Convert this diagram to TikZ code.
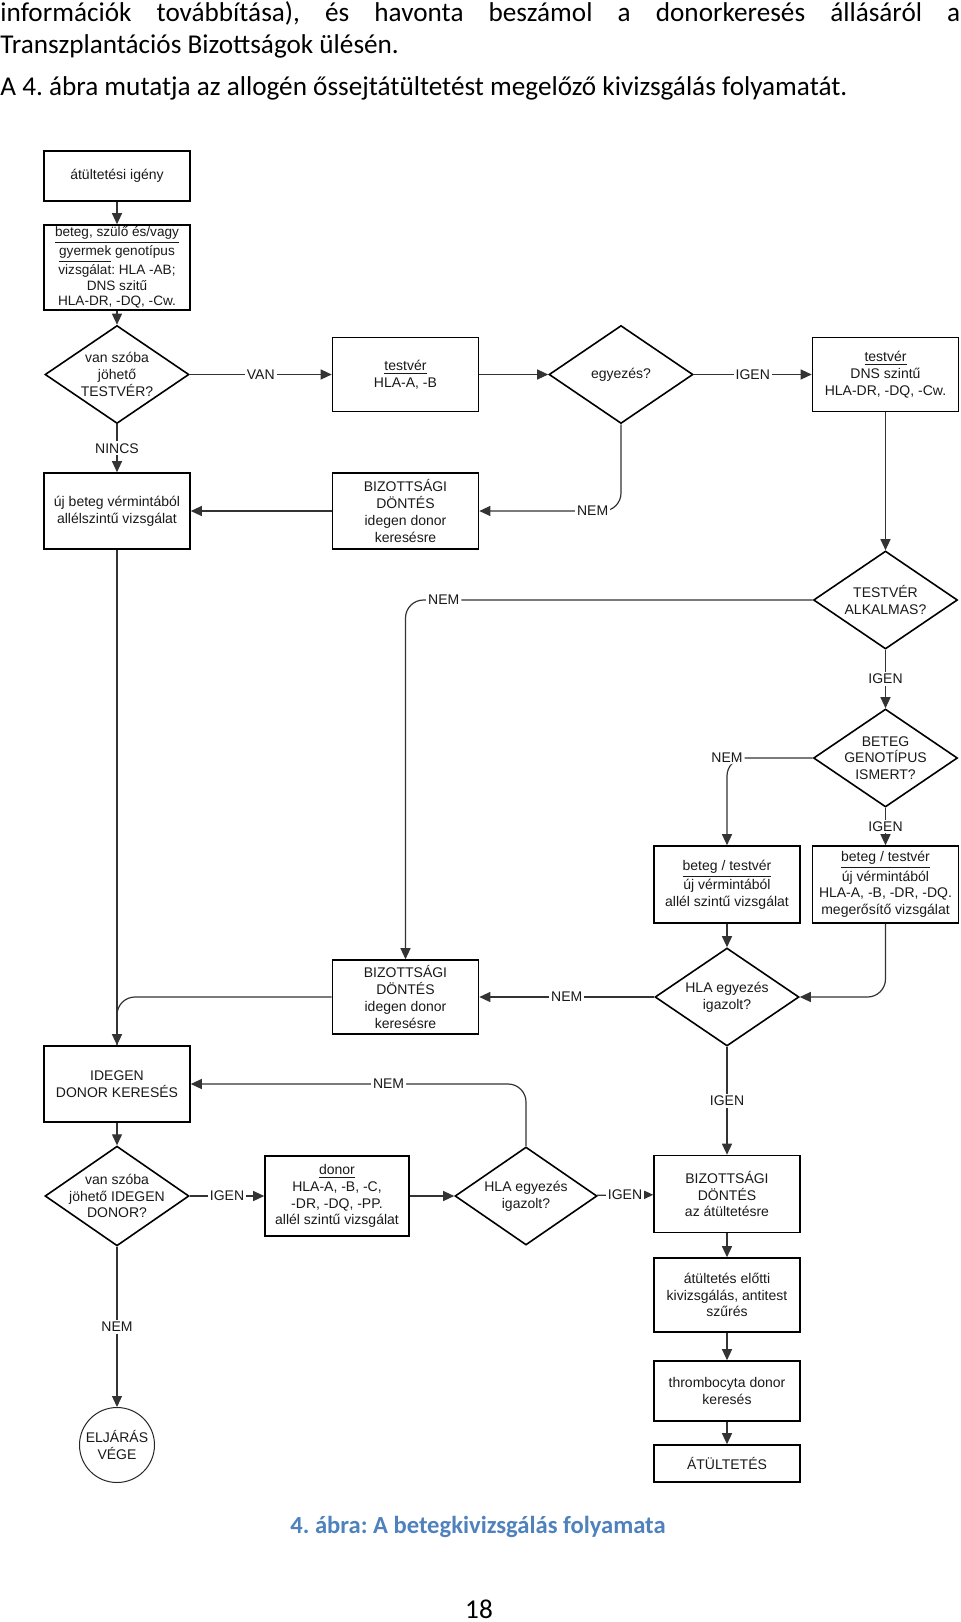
\documentclass[tikz,border=0pt]{standalone}
\usepackage{fontspec}
\setmainfont{Carlito}
\newfontfamily\arialfont{Liberation Sans}
\usepackage{xcolor}
\usetikzlibrary{shapes.geometric,arrows.meta}
\definecolor{capblue}{RGB}{79,129,189}
\definecolor{ink}{RGB}{25,25,25}
\frenchspacing

\begin{document}
\begin{tikzpicture}[x=0.5pt, y=-0.5pt,
	chart/.style={font=\arialfont\fontsize{7}{8.4}\selectfont, text=ink},
	box/.style={chart, draw=black, line width=0.8pt, minimum width=73pt, align=center, inner sep=0.5pt},
	dia/.style={chart, diamond, draw=black, line width=0.8pt, minimum width=72pt, minimum height=49pt, inner sep=-5pt, align=center},
	lab/.style={chart, fill=white, inner sep=1pt},
	line/.style={draw=black!80, line width=0.6pt},
	conn/.style={line, -{Triangle[length=5.5pt,width=5pt]}},
	body/.style={font=\fontsize{13.6}{16.5}\selectfont, inner sep=0pt, anchor=base west}]
	\useasboundingbox (0,0) rectangle (960,1622);

	\node[body] (intro1) at (0,21) {\makebox[480pt][s]{információk továbbítása), és havonta beszámol a donorkeresés állásáról a}};
	\node[body] (intro2) at (0,54) {Transzplantációs Bizottságok ülésén.};
	\node[body] (intro3) at (0,95) {A 4. ábra mutatja az allogén őssejtátültetést megelőző kivizsgálás folyamatát.};

	% testvér ág
	\node[box, minimum height=25pt] (igeny) at (117,176) {átültetési igény};
	\node[box, minimum height=42.5pt, font=\arialfont\fontsize{6.8}{7.9}\selectfont] (genotip) at (117,267.5) {\underline{beteg, szülő és/vagy}\\\underline{gyermek} genotípus\\vizsgálat: HLA -AB;\\DNS szitű\\HLA-DR, -DQ, -Cw.};
	\node[dia] (vanteszt) at (117,374.5) {van szóba\\jöhető\\TESTVÉR?};
	\node[box, minimum height=37pt] (testhla) at (405.5,374.5) {\underline{testvér}\\HLA-A, -B};
	\node[dia] (egyezes) at (621,374.5) {egyezés?};
	\node[box, minimum height=37pt] (testdns) at (885.5,374.5) {\underline{testvér}\\DNS szintű\\HLA-DR, -DQ, -Cw.};
	\node[box, minimum height=38pt] (ujbeteg) at (117,511) {új beteg vérmintából\\allélszintű vizsgálat};
	\node[box, minimum height=38pt] (bizd1) at (405.5,511) {BIZOTTSÁGI\\DÖNTÉS\\idegen donor\\keresésre};
	\node[dia] (alkalmas) at (885.5,600) {TESTVÉR\\ALKALMAS?};
	\node[dia] (genism) at (885.5,758) {BETEG\\GENOTÍPUS\\ISMERT?};
	\node[box, minimum height=38.5pt] (allel) at (727,884.5) {\underline{beteg / testvér}\\új vérmintából\\allél szintű vizsgálat};
	\node[box, minimum height=38.5pt] (megerosito) at (885.5,884.5) {\underline{beteg / testvér}\\új vérmintából\\HLA-A, -B, -DR, -DQ.\\megerősítő vizsgálat};
	\node[dia] (hlaig1) at (727,997) {HLA egyezés\\igazolt?};
	\node[box, minimum height=37pt] (bizd2) at (405.5,997) {BIZOTTSÁGI\\DÖNTÉS\\idegen donor\\keresésre};

	% idegen donor ág
	\node[box, minimum height=38pt] (idegen) at (117,1084) {IDEGEN\\DONOR KERESÉS};
	\node[dia] (vanidegen) at (117,1196) {van szóba\\jöhető IDEGEN\\DONOR?};
	\node[box, minimum width=72pt, minimum height=40pt] (donor) at (337,1196) {\underline{donor}\\HLA-A, -B, -C,\\-DR, -DQ, -PP.\\allél szintű vizsgálat};
	\node[dia, minimum width=71pt] (hlaig2) at (526,1196) {HLA egyezés\\igazolt?};
	\node[box, minimum height=38.5pt] (bizd3) at (727,1194) {BIZOTTSÁGI\\DÖNTÉS\\az átültetésre};
	\node[box, minimum height=37pt] (elotti) at (727,1295) {átültetés előtti\\kivizsgálás, antitest\\szűrés};
	\node[box, minimum height=30pt] (thromb) at (727,1391) {thrombocyta donor\\keresés};
	\node[box, minimum height=18.5pt] (atultetes) at (727,1463.5) {ÁTÜLTETÉS};
	\node[chart, circle, draw=black!85, line width=0.5pt, minimum size=37.5pt, inner sep=0pt, align=center] (vege) at (117,1445) {ELJÁRÁS\\VÉGE};

	\draw[conn] (igeny) -- (genotip);
	\draw[conn] (genotip) -- (vanteszt);
	\draw[conn] (vanteszt) -- node[lab] {VAN} (testhla);
	\draw[conn] (testhla) -- (egyezes);
	\draw[conn] (egyezes) -- node[lab] {IGEN} (testdns);
	\draw[conn, rounded corners=9pt] (egyezes.south) |- node[lab, pos=0.6] {NEM} (bizd1.east);
	\draw[conn] (vanteszt) -- node[lab] {NINCS} (ujbeteg);
	\draw[conn] (bizd1) -- (ujbeteg);
	\draw[conn] (testdns) -- (alkalmas);
	\draw[conn, rounded corners=9pt] (alkalmas.west) -| node[lab, pos=0.453] {NEM} (bizd2.north);
	\draw[conn] (alkalmas) -- node[lab] {IGEN} (genism);
	\draw[conn, rounded corners=9pt] (genism.west) -| node[lab, pos=0.5] {NEM} (allel.north);
	\draw[conn] (genism) -- node[lab] {IGEN} (megerosito);
	\draw[conn] (allel) -- (hlaig1);
	\draw[conn, rounded corners=9pt] (megerosito.south) |- (hlaig1.east);
	\draw[conn] (hlaig1) -- node[lab] {NEM} (bizd2);
	\draw[line, rounded corners=9pt] (bizd2.west) -| (idegen.north);
	\draw[conn] (ujbeteg) -- (idegen);
	\draw[conn] (hlaig1) -- node[lab] {IGEN} (bizd3);
	\draw[conn, rounded corners=9pt] (hlaig2.north) |- node[lab, pos=0.705] {NEM} (idegen.east);
	\draw[conn] (idegen) -- (vanidegen);
	\draw[conn] (vanidegen) -- node[lab] {IGEN} (donor);
	\draw[conn] (donor) -- (hlaig2);
	\draw[conn] (hlaig2) -- node[lab] {IGEN} (bizd3);
	\draw[conn] (bizd3) -- (elotti);
	\draw[conn] (elotti) -- (thromb);
	\draw[conn] (thromb) -- (atultetes);
	\draw[conn] (vanidegen) -- node[lab] {NEM} (vege);

	\node[font=\bfseries\fontsize{12.3}{14}\selectfont, text=capblue, inner sep=0pt, anchor=base] (caption) at (478,1533) {4. ábra: A betegkivizsgálás folyamata};
	\node[font=\fontsize{13.6}{16}\selectfont, inner sep=0pt, anchor=base] (pagenum) at (479,1618) {18};
\end{tikzpicture}
\end{document}
